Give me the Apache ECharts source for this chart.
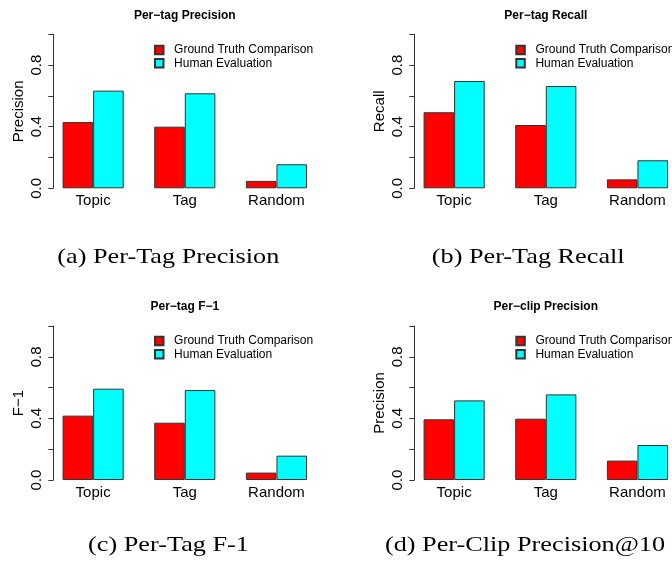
<!DOCTYPE html>
<html><head><meta charset="utf-8">
<script src="https://cdn.jsdelivr.net/npm/echarts@6/dist/echarts.min.js"></script>
<style>html,body{margin:0;padding:0;background:#fff}#c{width:672px;height:561px}</style>
</head><body><div id="c"></div>
<script>
// ---- data ----
const categories = ['Topic', 'Tag', 'Random'];
const seriesNames = ['Ground Truth Comparison', 'Human Evaluation'];
const precisionGT = [0.43, 0.40, 0.048];
const precisionHuman = [0.634, 0.617, 0.156];
const recallGT = [0.494, 0.411, 0.058];
const recallHuman = [0.697, 0.664, 0.182];
const f1GT = [0.418, 0.372, 0.048];
const f1Human = [0.593, 0.584, 0.158];
const clipGT = [0.394, 0.398, 0.126];
const clipHuman = [0.517, 0.556, 0.227];
const panelTitles = ['Per\u2212tag Precision', 'Per\u2212tag Recall', 'Per\u2212tag F\u22121', 'Per\u2212clip Precision'];
const yAxisNames = ['Precision', 'Recall', 'F\u22121', 'Precision'];
const captions = ['(a) Per-Tag Precision', '(b) Per-Tag Recall', '(c) Per-Tag F-1', '(d) Per-Clip Precision@10'];
const yTickValues = [0, 0.2, 0.4, 0.6, 0.8, 1.0];
const yTickLabels = ['0.0', '', '0.4', '', '0.8', ''];

const panelData = [[precisionGT, precisionHuman], [recallGT, recallHuman], [f1GT, f1Human], [clipGT, clipHuman]];

// ---- layout ----
const panels = [
  {axisX: 53.3, top: 34.3, legendLeft: 154, legendTop: 43.5, titleY: 15.3, capX: 168.3, capY: 257.5},
  {axisX: 414.3, top: 34.3, legendLeft: 515.3, legendTop: 43.5, titleY: 15.3, capX: 528.2, capY: 257.5},
  {axisX: 53.3, top: 326, legendLeft: 154, legendTop: 334.5, titleY: 306.7, capX: 168.5, capY: 545},
  {axisX: 414.3, top: 326, legendLeft: 515.3, legendTop: 334.5, titleY: 306.7, capX: 525, capY: 545}
];
const GRID_W = 275, GRID_H = 154, AXIS_SHIFT = 6;
const RED = '#ff0000', CYAN = '#00ffff', EDGE = '#333333';
const SANS = 'Liberation Sans, Arial, sans-serif';

const grid = [], xAxis = [], yAxis = [], series = [], legend = [], graphic = [];
panels.forEach((p, i) => {
  const left = p.axisX - AXIS_SHIFT;
  grid.push({left: left, top: p.top, width: GRID_W, height: GRID_H, containLabel: false, outerBoundsMode: 'none'});
  xAxis.push({
    type: 'category', gridIndex: i, data: categories,
    axisLine: {show: false}, axisTick: {show: false},
    axisLabel: {color: '#000', fontSize: 15, fontFamily: SANS, margin: 5}
  });
  yAxis.push({
    type: 'value', gridIndex: i, min: 0, max: 1, interval: 0.2, offset: -AXIS_SHIFT,
    splitLine: {show: false},
    axisLine: {show: true, lineStyle: {color: EDGE, width: 1}},
    axisTick: {show: true, length: 5, lineStyle: {color: EDGE, width: 1}},
    axisLabel: {
      color: '#000', fontSize: 15, fontFamily: SANS, rotate: 90, margin: 9, showMaxLabel: true, showMinLabel: true,
      formatter: v => { const k = yTickValues.findIndex(t => Math.abs(t - v) < 1e-6); return k >= 0 ? yTickLabels[k] : ''; }
    },
    name: yAxisNames[i], nameLocation: 'middle', nameGap: 27, nameMoveOverlap: false,
    nameTextStyle: {color: '#000', fontSize: 15, fontFamily: SANS}
  });
  const colors = [RED, CYAN];
  panelData[i].forEach((vals, s) => {
    series.push({
      type: 'bar', name: seriesNames[s], xAxisIndex: i, yAxisIndex: i, data: vals,
      barGap: '0%', barCategoryGap: '33.3%',
      itemStyle: {color: colors[s], borderColor: EDGE, borderWidth: 1}
    });
  });
  legend.push({
    data: seriesNames, orient: 'vertical', left: p.legendLeft, top: p.legendTop, padding: 0,
    itemWidth: 8.5, itemHeight: 8.5, itemGap: 0.3, icon: 'rect', selectedMode: false,
    textStyle: {color: '#000', fontSize: 12, fontFamily: SANS, lineHeight: 13, padding: [0, 0, 0, 5.6]}
  });
  graphic.push({
    type: 'text', x: left + GRID_W / 2, y: p.titleY,
    style: {text: panelTitles[i], font: 'bold 12px ' + SANS, fill: '#000', textAlign: 'center', textVerticalAlign: 'middle'}
  });
  graphic.push({
    type: 'text', x: p.capX, y: p.capY, scaleX: 1.22,
    style: {text: captions[i], font: '21.5px Liberation Serif, serif', fill: '#000', textAlign: 'center', textVerticalAlign: 'middle'}
  });
});

const chart = echarts.init(document.getElementById('c'), null, {renderer: 'canvas'});
chart.setOption({animation: false, backgroundColor: '#fff', grid, xAxis, yAxis, series, legend, graphic});
</script>
</body></html>
